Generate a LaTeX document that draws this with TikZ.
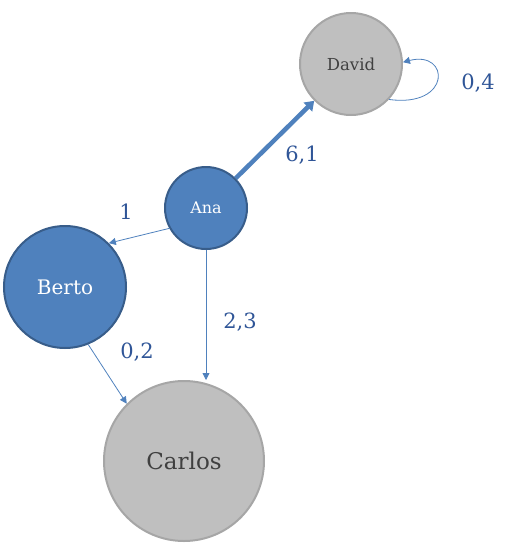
\documentclass[tikz,border=0pt]{standalone}
\usepackage{fontspec}
\setmainfont{DejaVu Serif}
\usepackage{xcolor}
\usetikzlibrary{arrows.meta}
\definecolor{nodeblue}{RGB}{79,129,189}
\definecolor{rimblue}{RGB}{56,93,138}
\definecolor{nodegray}{RGB}{191,191,191}
\definecolor{rimgray}{RGB}{166,166,166}
\definecolor{textgray}{RGB}{64,64,64}
\definecolor{edgeblue}{RGB}{79,129,189}
\definecolor{labelblue}{RGB}{47,85,151}
\tikzset{
  bluenode/.style={circle,draw=rimblue,fill=nodeblue,line width=2pt,text=white,inner sep=0pt},
  graynode/.style={circle,draw=rimgray,fill=nodegray,line width=2pt,text=textgray,inner sep=0pt},
  wt/.style={text=labelblue,font=\fontsize{21}{24}\selectfont},
  edge/.style={draw=edgeblue,line width=0.8pt,-{Triangle[length=7pt,width=7pt]}},
  heavy/.style={draw=edgeblue,line width=4.5pt,-{Triangle[length=9pt,width=12pt]}}
}

\begin{document}
\begin{tikzpicture}[x=1pt,y=-1pt]
\useasboundingbox (0,0) rectangle (512,552);
% nodes
\node[graynode,minimum size=102pt,font=\fontsize{16.5}{19}\selectfont] (David) at (351,64) {David};
\node[bluenode,minimum size=82pt,font=\fontsize{16}{19}\selectfont] (Ana) at (206,208) {Ana};
\node[bluenode,minimum size=122pt,font=\fontsize{20}{24}\selectfont] (Berto) at (65,287) {Berto};
\node[graynode,minimum size=160pt,font=\fontsize{23}{27}\selectfont] (Carlos) at (184,461) {Carlos};
% edges
\draw[heavy] (Ana.45) -- (David.225);
\draw[edge] (Ana.209) -- (Berto.45);
\draw[edge] (Ana.south) -- (Ana.south |- Carlos.north);
\draw[edge] (Berto.292) -- (Carlos.135);
\draw[edge] (David.-43) .. controls (452,108) and (450,50) .. (David.2);
% weights
\node[wt] (w61) at (302,155) {6,1};
\node[wt] (w1) at (126,212) {1};
\node[wt] (w23) at (240,322) {2,3};
\node[wt] (w02) at (137,352) {0,2};
\node[wt] (w04) at (478,83) {0,4};
\end{tikzpicture}
\end{document}
